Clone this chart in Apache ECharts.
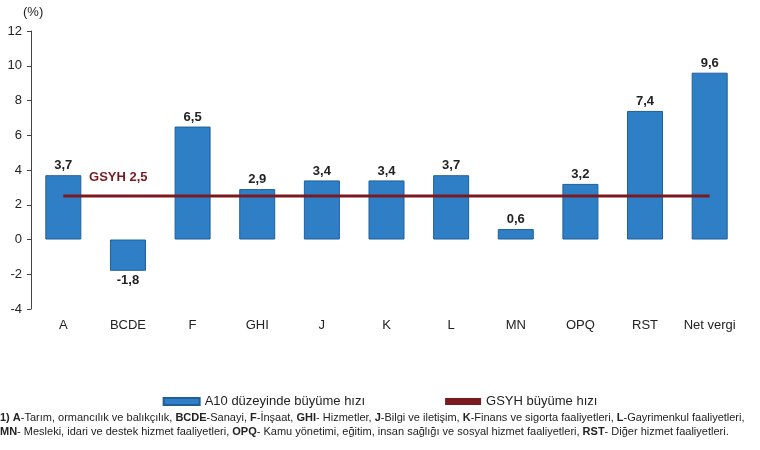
<!DOCTYPE html>
<html><head><meta charset="utf-8">
<script src="https://cdn.jsdelivr.net/npm/echarts@6/dist/echarts.min.js"></script>
<style>html,body{margin:0;background:#fff}#c{width:760px;height:450px}</style>
</head><body><div id="c"></div>
<script>
var categories = ['A', 'BCDE', 'F', 'GHI', 'J', 'K', 'L', 'MN', 'OPQ', 'RST', 'Net vergi']
var growth = [3.7, -1.8, 6.5, 2.9, 3.4, 3.4, 3.7, 0.6, 3.2, 7.4, 9.6]
var gdp = 2.5
var gdpLine = categories.map(function () { return gdp })
var yTicks = [-4, -2, 0, 2, 4, 6, 8, 10, 12]

var chart = echarts.init(document.getElementById('c'))
var fmt = function (v) { return String(v).replace('.', ',') }
var font = 'Liberation Sans Narrow, Arial Narrow, Liberation Sans, sans-serif'
chart.setOption({
  animation: false,
  textStyle: { fontFamily: font },
  grid: { left: 31, right: 18, top: 31, bottom: 141 },
  legend: {
    top: 390, left: 'center', itemGap: 80, itemWidth: 36, itemHeight: 7,
    textStyle: { fontSize: 13, color: '#222', fontFamily: font },
    data: [{ name: 'A10 düzeyinde büyüme hızı', icon: 'rect' }, { name: 'GSYH büyüme hızı', icon: 'rect' }]
  },
  xAxis: {
    type: 'category', data: categories,
    axisLine: { onZero: false, show: false }, axisTick: { show: false },
    axisLabel: { fontSize: 13, color: '#222', margin: 10, interval: 0 }
  },
  yAxis: {
    type: 'value', min: yTicks[0], max: yTicks[yTicks.length - 1], interval: 2,
    name: '(%)', nameLocation: 'end', nameGap: 12, nameTextStyle: { fontSize: 13, color: '#222', align: 'left', padding: [0, 0, 0, -8] },
    axisLine: { show: true, lineStyle: { color: '#444' } },
    axisTick: { show: true, inside: false, length: 4, lineStyle: { color: '#444' } },
    axisLabel: { fontSize: 13, color: '#222', margin: 9 },
    splitLine: { show: false }
  },
  series: [{
    name: 'A10 düzeyinde büyüme hızı', type: 'bar', barWidth: 36,
    data: growth.map(function (v) { return v < 0 ? { value: v, label: { position: 'bottom' } } : v }),
    itemStyle: { color: '#2f7fc6', borderColor: '#1f5f99', borderWidth: 1 },
    label: { show: true, formatter: function (p) { return fmt(p.value) }, position: 'top', fontSize: 13, fontWeight: 'bold', color: '#222', distance: 3 }
  }, {
    name: 'GSYH büyüme hızı', type: 'line', data: gdpLine, symbol: 'none',
    lineStyle: { color: '#7b1a1e', width: 3 }, itemStyle: { color: '#7b1a1e' },
    markPoint: {
      symbol: 'rect', symbolSize: 0,
      data: [{ coord: [0, gdp], value: gdp }],
      label: { show: true, formatter: 'GSYH ' + fmt(gdp), fontSize: 13, fontWeight: 'bold', color: '#7b1a1e', offset: [55, -19] }
    }
  }],
  graphic: [{
    type: 'text', left: 0, top: 411,
    style: {
      text: '{b|1) A}-Tarım, ormancılık ve balıkçılık, {b|BCDE}-Sanayi, {b|F}-İnşaat, {b|GHI}- Hizmetler, {b|J}-Bilgi ve iletişim, {b|K}-Finans ve sigorta faaliyetleri, {b|L}-Gayrimenkul faaliyetleri,\n{b|MN}- Mesleki, idari ve destek hizmet faaliyetleri, {b|OPQ}- Kamu yönetimi, eğitim, insan sağlığı ve sosyal hizmet faaliyetleri, {b|RST}- Diğer hizmet faaliyetleri.',
      fontSize: 11, fill: '#222', lineHeight: 14, fontFamily: font,
      rich: { b: { fontWeight: 'bold', fontSize: 11, fontFamily: font } }
    }
  }]
})
</script></body></html>
